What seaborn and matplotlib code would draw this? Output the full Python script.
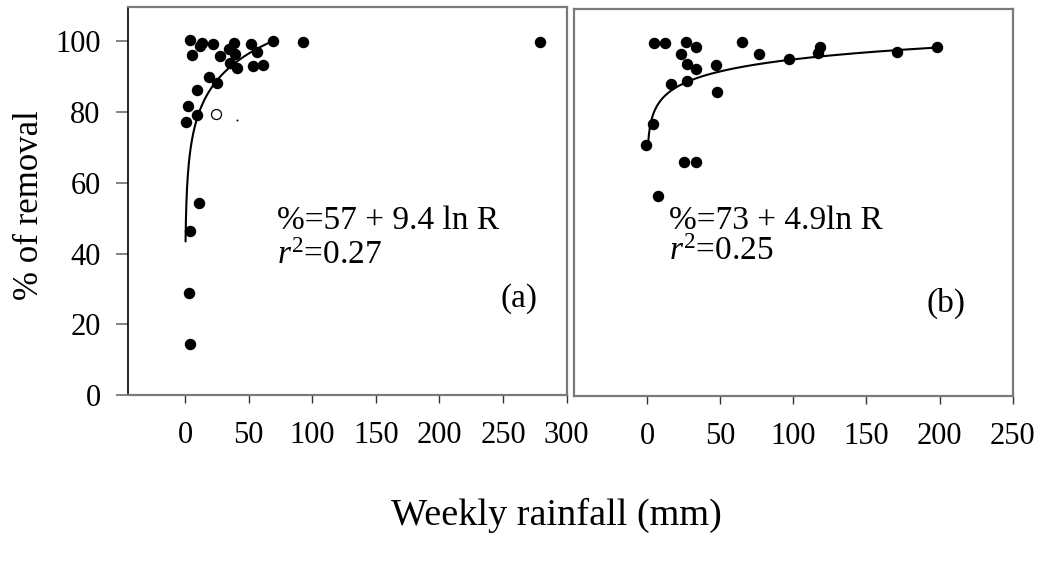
import numpy as np
import pandas as pd
import matplotlib
matplotlib.use("Agg")
import matplotlib.pyplot as plt
import seaborn as sns

# ---------------- data ----------------
a_x = [3.9, 13.1, 11.8, 22.3, 5.8, 38.8, 34.8, 39.3, 27.5, 51.9, 56.3, 68.9, 92.5, 279.0,
       35.4, 40.6, 53.7, 61.5, 18.9, 24.9, 9.2, 2.6, 9.7, 0.5, 11.3, 3.9, 3.4, 3.9]
a_y = [100.4, 99.6, 98.7, 99.1, 96.2, 99.6, 97.7, 96.3, 95.9, 99.1, 97.1, 100.2, 99.7, 99.8,
       94.0, 92.4, 92.9, 93.2, 90.0, 88.3, 86.2, 81.7, 79.2, 77.3, 54.2, 46.4, 28.8, 14.3]
a_open_x = [24.4]
a_open_y = [79.4]
a_dot_x = [40.6]
a_dot_y = [77.7]

b_x = [4.8, 12.3, 26.4, 33.3, 23.0, 65.1, 76.7, 27.1, 33.5, 46.9, 97.2, 118.2, 117.0,
       16.4, 27.1, 48.0, 3.9, -0.7, 25.5, 33.3, 7.7, 171.2, 198.3]
b_y = [99.9, 99.9, 100.2, 98.6, 96.7, 100.0, 96.7, 93.9, 92.4, 93.6, 95.3, 98.8, 96.9,
       88.2, 89.1, 86.0, 76.8, 70.9, 66.1, 66.2, 56.5, 97.3, 98.6]

# fitted curves  % = a + b ln R  (as drawn)
fit_a = (53.5, 11.0)
fit_a_range = (0.4, 70.0)
fit_b = (72.6, 4.9)
fit_b_range = (0.9, 199.0)

eq_a = "%=57 + 9.4 ln R"
r2_a = "$\\mathit{r}^2$=0.27"
eq_b = "%=73 + 4.9ln R"
r2_b = "$\\mathit{r}^2$=0.25"

xticks_a = [0, 50, 100, 150, 200, 250, 300]
xticks_b = [0, 50, 100, 150, 200, 250]
yticks = [0, 20, 40, 60, 80, 100]

# ---------------- style ----------------
sns.set_style("white")
plt.rcParams["font.family"] = ["Liberation Serif", "DejaVu Serif"]
plt.rcParams["mathtext.fontset"] = "custom"
plt.rcParams["mathtext.rm"] = "Liberation Serif"
plt.rcParams["mathtext.it"] = "Liberation Serif:italic"
plt.rcParams["text.color"] = "black"
plt.rcParams["axes.labelcolor"] = "black"
plt.rcParams["xtick.color"] = "black"
plt.rcParams["ytick.color"] = "black"

W, H = 1044, 563
fig = plt.figure(figsize=(W / 100, H / 100), dpi=100)
fig.patch.set_facecolor("white")

ax_a = fig.add_axes([128.3 / W, 1 - 395 / H, (566.7 - 128.3) / W, (395 - 7) / H])
ax_b = fig.add_axes([574.3 / W, 1 - 396 / H, (1012.7 - 574.3) / W, (396 - 8.7) / H])

GRAY = "#7a7a7a"
TICK_FS = 22
ANN_FS = 24


def curve_df(fit, rng):
    xs = np.geomspace(rng[0], rng[1], 300)
    return pd.DataFrame({"x": xs, "y": fit[0] + fit[1] * np.log(xs)})


# panel a
sns.lineplot(data=curve_df(fit_a, fit_a_range), x="x", y="y", ax=ax_a,
             color="black", linewidth=1.5, sort=False)
sns.scatterplot(x=a_x, y=a_y, ax=ax_a, color="black", s=68, linewidth=0, zorder=3)
sns.scatterplot(x=a_open_x, y=a_open_y, ax=ax_a, facecolor="white", edgecolor="black",
                s=52, linewidth=0.9, zorder=3)
sns.scatterplot(x=a_dot_x, y=a_dot_y, ax=ax_a, color="black", s=2, linewidth=0, zorder=3)

# panel b
sns.lineplot(data=curve_df(fit_b, fit_b_range), x="x", y="y", ax=ax_b,
             color="black", linewidth=1.5, sort=False)
sns.scatterplot(x=b_x, y=b_y, ax=ax_b, color="black", s=68, linewidth=0, zorder=3)

ax_a.set_xlim(-44.6, 300)
ax_a.set_ylim(0, (395 - 7) / 3.537)
ax_b.set_xlim(-49.7, 249.8)
ax_b.set_ylim(0, (396 - 8.7) / 3.537)

for ax, ticks in ((ax_a, xticks_a), (ax_b, xticks_b)):
    ax.set_xticks(ticks)
    ax.set_xticklabels([str(t) for t in ticks])
    ax.tick_params(axis="x", direction="out", length=6, width=1, color="#333333",
                   labelsize=TICK_FS, pad=13, bottom=True, labelcolor="black")
    ax.set_xlabel("")
    ax.set_ylabel("")
    for sp in ax.spines.values():
        sp.set_visible(True)
        sp.set_color(GRAY)
        sp.set_linewidth(1.6)

ax_a.set_yticks(yticks)
ax_a.set_yticklabels([str(t) for t in yticks])
ax_a.tick_params(axis="y", direction="out", length=9, width=1.3, color=GRAY,
                 labelsize=TICK_FS, pad=11, left=True, labelcolor="black")
ax_a.spines["left"].set_color("black")
ax_a.spines["left"].set_linewidth(1.2)
ax_b.set_yticks([])

# annotations
ax_a.text(0.340, 0.428, eq_a, transform=ax_a.transAxes, fontsize=ANN_FS, va="baseline")
ax_a.text(0.340, 0.337, r2_a, transform=ax_a.transAxes, fontsize=ANN_FS, va="baseline")
ax_a.text(0.850, 0.227, "(a)", transform=ax_a.transAxes, fontsize=ANN_FS, va="baseline")

ax_b.text(0.215, 0.432, eq_b, transform=ax_b.transAxes, fontsize=ANN_FS, va="baseline")
ax_b.text(0.215, 0.350, r2_b, transform=ax_b.transAxes, fontsize=ANN_FS, va="baseline")
ax_b.text(0.803, 0.217, "(b)", transform=ax_b.transAxes, fontsize=ANN_FS, va="baseline")

# axis titles
fig.text(30 / W, 1 - 205 / H, "% of removal", rotation=90, fontsize=25,
         ha="center", va="center")
fig.text(556 / W, 1 - 515 / H, "Weekly rainfall (mm)", fontsize=27.5,
         ha="center", va="center")

fig.savefig("out.png", dpi=100, facecolor="white")
